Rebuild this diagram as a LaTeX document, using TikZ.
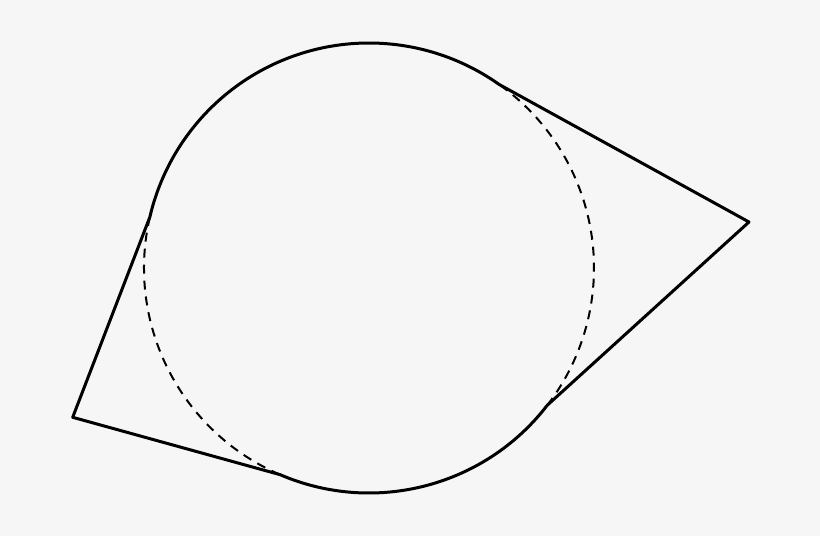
\documentclass[tikz,border=0pt]{standalone}
\usetikzlibrary{calc}
\definecolor{bg}{RGB}{246,246,246}
\tikzset{
  outline/.style={line width=3pt, line join=round, black},
  hidden/.style={line width=2pt, black, dash pattern=on 9pt off 7pt}
}
\begin{document}
\begin{tikzpicture}
\fill[bg] (0,0) rectangle (820pt,536pt);
\useasboundingbox (0,0) rectangle (820pt,536pt);
\coordinate (C) at (369pt,268pt);
\coordinate (R) at (749pt,314pt);
\coordinate (L) at (72.7pt,118.7pt);
\coordinate (t1) at ($(C)+(54.7:225pt)$);
\coordinate (t2) at ($(C)+(166.9:225pt)$);
\coordinate (t3) at ($(C)+(246.7:225pt)$);
\coordinate (t4) at ($(C)+(-37.6:225pt)$);
\draw[outline] (R) -- (t1) arc[start angle=54.7, end angle=166.9, radius=225pt]
  -- (L) -- (t3) arc[start angle=246.7, end angle=322.4, radius=225pt] -- cycle;
\draw[hidden] (t2) arc[start angle=166.9, end angle=246.7, radius=225pt];
\draw[hidden] (t4) arc[start angle=-37.6, end angle=54.7, radius=225pt];
\end{tikzpicture}
\end{document}
